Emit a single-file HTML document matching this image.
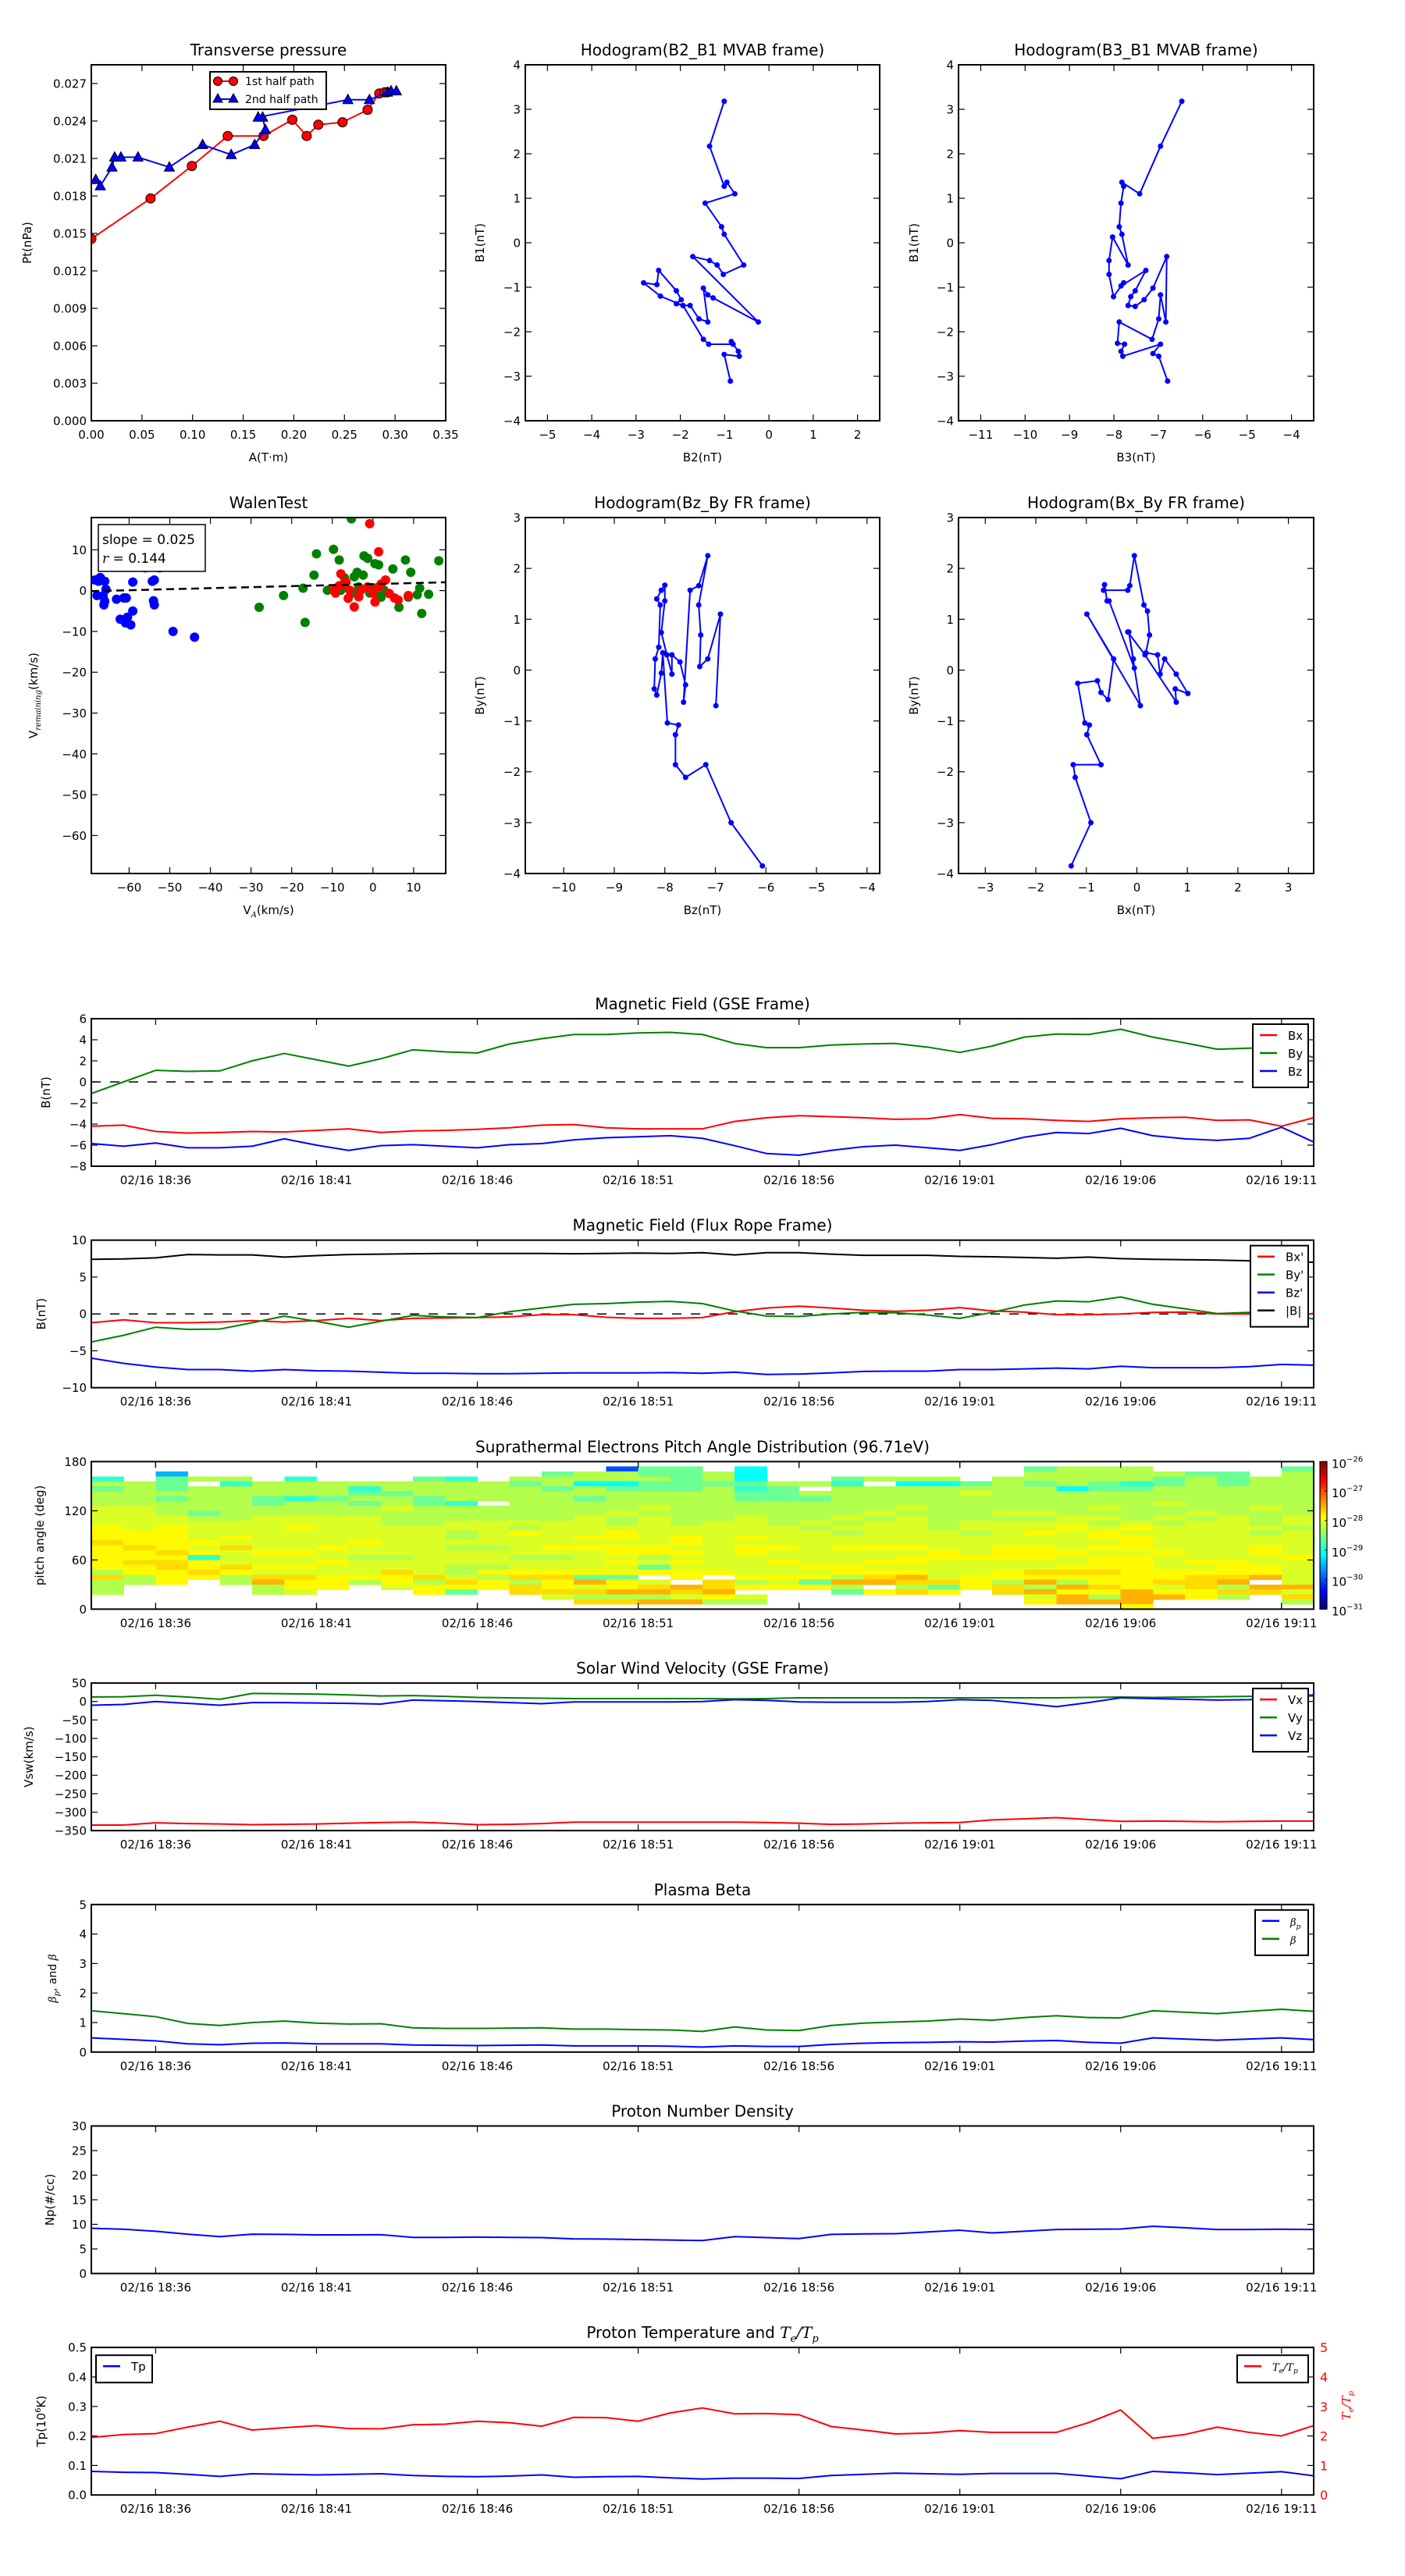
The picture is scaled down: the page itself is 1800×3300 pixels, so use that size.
<!DOCTYPE html>
<html><head><meta charset="utf-8">
<style>
html,body{margin:0;padding:0;background:#fff;}
svg{display:block;font-family:"DejaVu Sans","Liberation Sans",sans-serif;}
</style></head>
<body>
<svg id="fig" xmlns="http://www.w3.org/2000/svg" width="1800" height="3300" viewBox="0 0 1800 3300">
<rect x="0" y="0" width="1800" height="3300" fill="#fff"/>
</svg>
<script>
// ---------------- DATA ----------------
const timeTickLabels = ["02/16 18:36","02/16 18:41","02/16 18:46","02/16 18:51","02/16 18:56","02/16 19:01","02/16 19:06","02/16 19:11"];
const timeTickMinutes = [2,7,12,17,22,27,32,37];
const timeSpan = 38;

const gseBx = [-4.2,-4.1,-4.7,-4.85,-4.8,-4.7,-4.75,-4.6,-4.45,-4.8,-4.65,-4.6,-4.5,-4.35,-4.1,-4.05,-4.35,-4.45,-4.45,-4.45,-3.75,-3.4,-3.2,-3.3,-3.4,-3.55,-3.5,-3.1,-3.45,-3.5,-3.65,-3.75,-3.5,-3.4,-3.35,-3.65,-3.6,-4.2,-3.4];
const gseBy = [-1.1,0,1.1,1.0,1.05,2.0,2.7,2.1,1.5,2.2,3.05,2.85,2.75,3.6,4.1,4.5,4.5,4.65,4.7,4.5,3.65,3.25,3.25,3.5,3.6,3.65,3.3,2.8,3.4,4.25,4.55,4.5,5.0,4.25,3.7,3.1,3.2,3.3,2.3];
const gseBz = [-5.85,-6.1,-5.8,-6.25,-6.25,-6.1,-5.4,-6.0,-6.5,-6.05,-5.95,-6.1,-6.25,-5.95,-5.85,-5.5,-5.3,-5.2,-5.1,-5.35,-6.05,-6.8,-6.95,-6.5,-6.15,-6.0,-6.25,-6.5,-5.95,-5.25,-4.8,-4.9,-4.4,-5.1,-5.4,-5.55,-5.35,-4.3,-5.7];

const frBx = [-1.2,-0.8,-1.2,-1.2,-1.1,-0.9,-1.1,-0.9,-0.6,-0.9,-0.6,-0.55,-0.5,-0.4,-0.1,-0.1,-0.45,-0.6,-0.6,-0.5,0.3,0.8,1.05,0.8,0.5,0.35,0.5,0.85,0.4,0.25,-0.1,-0.1,0,0.2,0.25,0,0,-0.8,0.1];
const frBy = [-3.8,-2.9,-1.8,-2.1,-2.05,-1.2,-0.3,-1.0,-1.8,-1.0,-0.2,-0.4,-0.5,0.3,0.8,1.3,1.4,1.6,1.7,1.4,0.4,-0.3,-0.35,0,0.2,0.15,-0.15,-0.6,0.2,1.2,1.75,1.65,2.3,1.3,0.7,0.05,0.2,0.1,-0.7];
const frBz = [-6.0,-6.7,-7.2,-7.55,-7.55,-7.75,-7.55,-7.7,-7.75,-7.9,-8.05,-8.05,-8.1,-8.1,-8.05,-8.0,-8.0,-8.0,-7.95,-8.05,-7.9,-8.2,-8.15,-8.0,-7.8,-7.75,-7.75,-7.55,-7.55,-7.45,-7.35,-7.45,-7.1,-7.3,-7.3,-7.3,-7.15,-6.85,-6.95];
const frBt = [7.4,7.45,7.6,8.05,8.0,8.0,7.7,7.9,8.05,8.1,8.15,8.2,8.2,8.2,8.2,8.15,8.2,8.25,8.2,8.3,8.0,8.3,8.3,8.1,7.95,7.95,7.95,7.8,7.75,7.65,7.55,7.7,7.5,7.4,7.35,7.3,7.2,7.1,7.0];

const swVx = [-335,-335,-329,-331,-332,-334,-333,-332,-330,-328,-327,-330,-334,-333,-331,-327,-327,-327,-327,-327,-327,-328,-330,-333,-332,-330,-329,-328,-321,-318,-315,-320,-325,-324,-325,-326,-325,-324,-324];
const swVy = [12,13,17,12,6,22,21,20,18,15,16,14,11,10,9,8,8,8,8,8,7,8,10,10,10,10,10,10,10,10,10,11,12,11,12,13,14,14,15];
const swVz = [-10,-8,0,-5,-10,-3,-3,-4,-5,-7,4,2,0,-3,-6,-1,-1,-1,-1,0,5,3,-1,-2,-2,-2,0,5,3,-5,-14,-3,10,8,6,4,5,10,18];

const betaTotal = [1.4,1.3,1.2,0.97,0.9,1.0,1.05,0.98,0.95,0.96,0.82,0.8,0.8,0.81,0.82,0.78,0.78,0.76,0.75,0.7,0.85,0.75,0.73,0.9,0.98,1.02,1.05,1.12,1.08,1.17,1.23,1.17,1.16,1.4,1.35,1.3,1.38,1.45,1.38];
const betaProton = [0.48,0.43,0.38,0.28,0.25,0.3,0.31,0.28,0.28,0.28,0.24,0.23,0.22,0.23,0.24,0.21,0.21,0.21,0.2,0.17,0.21,0.19,0.19,0.26,0.3,0.32,0.33,0.35,0.34,0.37,0.39,0.33,0.3,0.48,0.44,0.4,0.44,0.48,0.42];

const density = [9.2,9.0,8.6,8.0,7.5,8.0,7.95,7.85,7.85,7.9,7.35,7.35,7.4,7.35,7.3,7.05,7.0,6.9,6.8,6.7,7.5,7.3,7.1,7.95,8.05,8.1,8.45,8.8,8.25,8.6,8.95,9.0,9.05,9.6,9.3,8.95,8.95,9.0,8.95];

const protonTemp = [0.08,0.077,0.076,0.07,0.063,0.072,0.07,0.068,0.07,0.072,0.066,0.063,0.062,0.064,0.068,0.06,0.062,0.063,0.058,0.054,0.057,0.057,0.056,0.066,0.07,0.074,0.072,0.07,0.073,0.073,0.073,0.064,0.055,0.08,0.075,0.069,0.074,0.079,0.065];
const tempRatio = [1.95,2.05,2.08,2.3,2.5,2.2,2.28,2.35,2.25,2.24,2.38,2.4,2.5,2.45,2.33,2.63,2.62,2.5,2.78,2.95,2.75,2.76,2.72,2.32,2.2,2.07,2.1,2.18,2.12,2.12,2.12,2.45,2.88,1.92,2.05,2.3,2.12,2.0,2.35];

// pitch angle distribution: 30 bins (top=174-180deg ... bottom=0-6deg), 38 one-minute columns; digit = level index, '.' = no data
const padRows = [
"......................................",
"................044.2........4555....4",
"..1...........4554452........5555544.5",
"3.455.3...43.55555452..4555.5555545455",
"554.35555555545224444553.2245454345455",
"4545555535555545444534.555555524455555",
"55555555445555555555445555565555555555",
"55455434554555545555444555555555555555",
"555554554543.5555555555555555555565555",
"66555555565555555655555556555556555565",
"66545555555555556555555565556655556555",
"66655666655555565655655656555566565656",
"66666666655666665656656566566665656656",
"76766676666665666666665666566676766665",
"77766666666567667666666566656767666656",
"77767666666566677676766666666667766666",
"87776666766666666676666666666666766666",
"78768667666556777766776777667767766676",
"77876776666666667776766666767776676676",
"77736666556665566566666667777767766667",
"78876667666666667676676677666667767766",
"77878776666556666466667766666677766776",
"57787666686577777777666777667888777776",
"85775887778658844.7.777589677777778896",
"557.59775758757976.85649988759577889.6",
"5....577.677787678987775.5478598768599",
"5....56...74.8889989...4787.8977977886",
"..............6555676........6959975.8",
"...............889955........7999....5",
"................................7....."
];
const padLevelLog = [-30.0,-29.5,-29.1,-28.9,-28.6,-28.25,-28.05,-27.85,-27.7,-27.5];
const padTickLabels = ["0","60","120","180"];
const cbarExponents = [-31,-30,-29,-28,-27,-26];

// transverse pressure
const tpRedA = [0,0.0585,0.0993,0.1347,0.1701,0.1985,0.2127,0.2242,0.2481,0.2729,0.2844,0.2897,0.2924];
const tpRedPt = [0.01456,0.0178,0.0204,0.0228,0.0228,0.0241,0.0228,0.0237,0.0239,0.0249,0.0262,0.0263,0.0263];
const tpBlueA = [0.0044,0.0089,0.0204,0.0230,0.0292,0.0461,0.0771,0.1099,0.1382,0.1613,0.1719,0.1692,0.1648,0.2534,0.2747,0.2924,0.2960,0.3013];
const tpBluePt = [0.0193,0.0188,0.0203,0.0211,0.0211,0.0211,0.0203,0.0221,0.0213,0.0221,0.0233,0.0243,0.0243,0.0257,0.0257,0.0263,0.0264,0.0264];
const tpXTicks = ["0.00","0.05","0.10","0.15","0.20","0.25","0.30","0.35"];
const tpYTicks = ["0.000","0.003","0.006","0.009","0.012","0.015","0.018","0.021","0.024","0.027"];

// hodograms
const h1B2 = [-1.01,-1.34,-1.01,-0.95,-0.77,-1.44,-1.07,-1.01,-0.57,-1.03,-1.17,-1.34,-1.72,-0.24,-1.26,-1.38,-1.48,-1.38,-1.58,-1.78,-1.94,-2.09,-1.98,-2.09,-2.49,-2.53,-2.83,-2.45,-1.94,-1.48,-1.36,-0.81,-0.85,-0.69,-0.67,-1.01,-0.87];
const h1B1 = [3.18,2.17,1.27,1.36,1.10,0.89,0.36,0.19,-0.50,-0.71,-0.50,-0.40,-0.31,-1.78,-1.24,-1.17,-1.02,-1.78,-1.71,-1.41,-1.41,-1.37,-1.28,-1.08,-0.62,-0.94,-0.90,-1.20,-1.41,-2.17,-2.28,-2.28,-2.22,-2.44,-2.55,-2.51,-3.11];
const h2B3 = [-6.47,-6.95,-7.42,-7.82,-7.78,-7.84,-7.88,-7.82,-7.68,-8.03,-8.11,-8.11,-8.01,-7.78,-7.84,-7.28,-7.52,-7.62,-7.68,-7.52,-7.32,-7.12,-6.81,-6.83,-6.95,-6.99,-7.14,-7.88,-7.92,-7.76,-7.84,-7.80,-6.95,-7.12,-6.99,-6.79];
const h2B1 = [3.18,2.17,1.10,1.36,1.27,0.89,0.36,0.19,-0.50,0.13,-0.40,-0.71,-1.21,-0.90,-0.97,-0.62,-1.08,-1.21,-1.41,-1.43,-1.28,-1.02,-0.31,-1.78,-1.17,-1.71,-2.17,-1.78,-2.26,-2.28,-2.44,-2.55,-2.28,-2.49,-2.55,-3.11];
const h3Bz = [-6.07,-6.69,-7.19,-7.59,-7.79,-7.79,-7.73,-7.95,-8.04,-8.07,-8.16,-8.21,-8.19,-8.12,-8.09,-8.16,-8.07,-8.00,-8.00,-8.07,-7.96,-7.86,-7.86,-7.70,-7.59,-7.63,-7.50,-7.33,-7.15,-7.33,-7.29,-7.31,-7.15,-6.90,-6.99];
const h3By = [-3.85,-3.00,-1.86,-2.11,-1.86,-1.27,-1.08,-1.04,0.34,-0.06,-0.49,-0.37,0.22,0.45,1.28,1.40,1.57,1.67,1.36,0.74,0.30,-0.08,0.30,0.16,-0.29,-0.63,1.57,1.66,2.25,1.28,0.69,0.07,0.22,1.10,-0.70];
const h4Bx = [-1.30,-0.91,-1.22,-1.26,-0.71,-0.99,-0.94,-1.03,-1.17,-0.78,-0.71,-0.57,-0.46,-0.99,0.07,-0.16,-0.07,-0.05,-0.55,-0.59,-0.64,-0.66,-0.18,-0.14,-0.05,0.14,0.21,0.25,0.18,0.41,0.46,0.55,0.78,1.01,0.76,0.78,0.16,-0.18];
const h4By = [-3.85,-3.00,-2.11,-1.86,-1.86,-1.27,-1.08,-1.04,-0.26,-0.21,-0.44,-0.58,0.22,1.10,-0.70,0.75,0.22,0.04,1.36,1.36,1.68,1.57,1.57,1.66,2.25,1.28,1.16,0.69,0.34,0.30,-0.08,0.22,-0.08,-0.46,-0.37,-0.63,0.30,0.75];

// Walen test
const walenBlueVA = [-68.4,-67.5,-67.1,-66.0,-66.4,-66.2,-66.0,-65.7,-67.9,-63.1,-61.3,-60.7,-59.1,-62.2,-60.9,-59.6,-60.4,-59.1,-58.7,-56.0,-54.3,-53.8,-53.2,-52.5,-52.5,-54.0,-53.8,-50.5,-49.2,-43.9,-64.4];
const walenBlueV = [2.6,2.3,3.2,2.3,-1.3,-3.5,-2.6,0.3,-1.2,-2.1,-1.8,-1.8,-5.0,-7.0,-7.9,-8.4,-6.5,2.1,6.0,5.6,2.3,2.6,6.8,5.6,6.6,-2.5,-3.5,7.5,-10.0,-11.4,7.3];
const walenGreenVA = [-5.3,-9.7,-13.9,-8.3,-14.5,-22.0,-28.0,-16.7,-17.2,-11.2,-7.9,-5.0,-3.9,-3.5,-2.2,-1.3,0.5,1.4,0.5,-0.8,1.0,2.0,4.9,8.0,9.3,6.4,8.7,10.9,11.5,12.0,13.7,16.2,-7.0,-4.6,2.7,-2.4];
const walenGreenV = [17.6,10.1,9.0,7.5,3.8,-1.2,-4.1,-7.8,0.6,0.1,0.1,-0.6,4.5,0.9,8.5,7.9,6.6,6.3,0.6,-0.6,-1.3,-1.6,5.3,7.5,4.5,-4.1,-1.6,-1.0,0.6,-5.6,-0.9,7.3,3.1,3.4,0.1,3.8];
const walenRedVA = [-0.8,1.4,-7.9,-9.7,-9.2,-7.2,-6.6,-5.7,-4.6,-6.1,-3.5,-1.3,0.0,0.5,1.4,3.1,4.0,5.3,6.2,8.7,2.0,-3.0,-8.3];
const walenRedV = [16.4,9.5,4.1,0.1,-0.6,1.6,2.1,0.1,-4.0,-1.9,-1.5,0.9,-0.6,-2.8,0.9,2.6,-0.7,-1.8,-2.3,-1.2,1.6,0.1,1.2];
const walenSlope = 0.025;
const walenIntercept = 1.6;
const walenR = 0.144;

// ---------------- DRAWING ----------------
const NS = "http://www.w3.org/2000/svg";
const svg = document.getElementById('fig');
const MINUS = "\u2212";
function fmtNum(v, d){ const s = v.toFixed(d); return s.replace("-", MINUS); }

function mk(tag, attrs, name, parent){
  const el = document.createElementNS(NS, tag);
  for (const k in attrs) el.setAttribute(k, attrs[k]);
  
  
  (parent || svg).appendChild(el);
  return el;
}
function txt(x, y, s, size, anchor, name, parent, extra){
  const a = {x:x, y:y, 'font-size':size, 'text-anchor':anchor||'middle', fill:'#000'};
  if (extra) for (const k in extra) a[k] = extra[k];
  const t = mk('text', a, name, parent);
  t.textContent = s;
  return t;
}
function polyline(xs, ys, sx, sy, color, name, parent, width){
  let d = '';
  for (let i = 0; i < xs.length; i++) d += (i ? ' L' : 'M') + sx(xs[i]).toFixed(2) + ' ' + sy(ys[i]).toFixed(2);
  return mk('path', {d:d, fill:'none', stroke:color, 'stroke-width':width||2, 'stroke-linejoin':'round'}, name, parent);
}
function frame(g, x0, y0, x1, y1, name){
  mk('rect', {x:x0, y:y0, width:x1-x0, height:y1-y0, fill:'none', stroke:'#000', 'stroke-width':2}, name, g);
}
function xTicks(g, vals, labels, sx, y0, y1, name, labelSize){
  vals.forEach((v, i) => {
    const x = sx(v);
    mk('line', {x1:x, y1:y1, x2:x, y2:y1-8, stroke:'#000', 'stroke-width':1.2}, name + '-tick', g);
    mk('line', {x1:x, y1:y0, x2:x, y2:y0+8, stroke:'#000', 'stroke-width':1.2}, name + '-tick-top', g);
    txt(x, y1 + 23, labels[i], labelSize || 15, 'middle', name + '-label', g);
  });
}
function yTicks(g, vals, labels, sy, x0, x1, name, labelSize){
  vals.forEach((v, i) => {
    const y = sy(v);
    mk('line', {x1:x0, y1:y, x2:x0+8, y2:y, stroke:'#000', 'stroke-width':1.2}, name + '-tick', g);
    mk('line', {x1:x1, y1:y, x2:x1-8, y2:y, stroke:'#000', 'stroke-width':1.2}, name + '-tick-right', g);
    txt(x0 - 6, y + 5.5, labels[i], labelSize || 15, 'end', name + '-label', g);
  });
}
function scale(d0, d1, p0, p1){ return v => p0 + (v - d0) * (p1 - p0) / (d1 - d0); }
function rangeArr(a, b, s){ const r = []; for (let v = a; v <= b + 1e-9; v += s) r.push(Math.round(v*1000)/1000); return r; }

// ---------- time-series panels ----------
const TL = 117, TR = 1683, TH = 189;
const tx = scale(0, timeSpan, TL, TR);
const timeIdx = gseBx.map((_, i) => i);

function timePanel(top, ymin, ymax, ytickVals, ytickFmt, title, name){
  const g = mk('g', {}, name);
  const sy = scale(ymin, ymax, top + TH, top);
  txt((TL + TR) / 2, top - 12, title, 20, 'middle', name + '-title', g);
  yTicks(g, ytickVals, ytickVals.map(ytickFmt), sy, TL, TR, name + '-y');
  xTicks(g, timeTickMinutes, timeTickLabels, tx, top, top + TH, name + '-x');
  return {g: g, sy: sy, top: top};
}
function clipFor(p, id){
  const cp = mk('clipPath', {id:id}, id, p.g);
  mk('rect', {x:TL, y:p.top, width:TR-TL, height:TH}, id + '-rect', cp);
  return 'url(#' + id + ')';
}
function legend(g, x0, y0, w, entries, name){
  const h = 12 + entries.length * 23;
  mk('rect', {x:x0, y:y0, width:w, height:h, fill:'#fff', stroke:'#000', 'stroke-width':2}, name + '-box', g);
  entries.forEach((e, i) => {
    const y = y0 + 14 + i * 23;
    mk('line', {x1:x0+9, y1:y, x2:x0+31, y2:y, stroke:e.color, 'stroke-width':2.5}, name + '-swatch', g);
    const t = txt(x0 + 45, y + 6, '', 15, 'start', name + '-entry', g);
    if (e.html) t.innerHTML = e.html; else t.textContent = e.label;
  });
}
function ylabel(g, x, y, s, name, size){
  const t = mk('text', {x:0, y:0, 'font-size':size||15, 'text-anchor':'middle', transform:'translate(' + x + ',' + y + ') rotate(-90)', fill:'#000'}, name, g);
  t.innerHTML = s;
  return t;
}
const step = (i) => 1305 + i * 283.7;

// Panel 1: GSE field
(function(){
  const top = step(0);
  const p = timePanel(top, -8, 6, rangeArr(-8, 6, 2), v => fmtNum(v, 0), 'Magnetic Field (GSE Frame)', 'gse-field-panel');
  const c = clipFor(p, 'clip-gse');
  mk('line', {x1:TL, y1:p.sy(0), x2:TR, y2:p.sy(0), stroke:'#000', 'stroke-width':1.5, 'stroke-dasharray':'12,12'}, 'zero-line', p.g);
  polyline(timeIdx, gseBx, tx, p.sy, '#ff0000', 'bx-line', p.g).setAttribute('clip-path', c);
  polyline(timeIdx, gseBy, tx, p.sy, '#008000', 'by-line', p.g).setAttribute('clip-path', c);
  polyline(timeIdx, gseBz, tx, p.sy, '#0000ff', 'bz-line', p.g).setAttribute('clip-path', c);
  frame(p.g, TL, top, TR, top + TH, 'gse-axes-frame');
  legend(p.g, 1605, top + 7, 71, [{label:'Bx', color:'#ff0000'}, {label:'By', color:'#008000'}, {label:'Bz', color:'#0000ff'}], 'gse-legend');
  ylabel(p.g, 64, top + TH/2, 'B(nT)', 'gse-y-axis-title');
})();

// Panel 2: Flux rope frame
(function(){
  const top = step(1);
  const p = timePanel(top, -10, 10, [-10, -5, 0, 5, 10], v => fmtNum(v, 0), 'Magnetic Field (Flux Rope Frame)', 'fr-field-panel');
  const c = clipFor(p, 'clip-fr');
  mk('line', {x1:TL, y1:p.sy(0), x2:TR, y2:p.sy(0), stroke:'#000', 'stroke-width':1.5, 'stroke-dasharray':'12,12'}, 'zero-line', p.g);
  polyline(timeIdx, frBx, tx, p.sy, '#ff0000', 'bx-prime-line', p.g).setAttribute('clip-path', c);
  polyline(timeIdx, frBy, tx, p.sy, '#008000', 'by-prime-line', p.g).setAttribute('clip-path', c);
  polyline(timeIdx, frBz, tx, p.sy, '#0000ff', 'bz-prime-line', p.g).setAttribute('clip-path', c);
  polyline(timeIdx, frBt, tx, p.sy, '#000000', 'b-magnitude-line', p.g).setAttribute('clip-path', c);
  frame(p.g, TL, top, TR, top + TH, 'fr-axes-frame');
  legend(p.g, 1602, top + 7, 74, [{label:"Bx'", color:'#ff0000'}, {label:"By'", color:'#008000'}, {label:"Bz'", color:'#0000ff'}, {label:'|B|', color:'#000'}], 'fr-legend');
  ylabel(p.g, 58, top + TH/2, 'B(nT)', 'fr-y-axis-title');
})();

// Panel 3: PAD heatmap
function jet(t){
  t = Math.max(0, Math.min(1, t));
  const c = v => Math.round(255 * Math.max(0, Math.min(1, v)));
  return 'rgb(' + c(1.5 - Math.abs(4*t - 3)) + ',' + c(1.5 - Math.abs(4*t - 2)) + ',' + c(1.5 - Math.abs(4*t - 1)) + ')';
}
(function(){
  const top = step(2);
  const p = timePanel(top, 0, 180, [0, 60, 120, 180], v => padTickLabels[[0,60,120,180].indexOf(v)], 'Suprathermal Electrons Pitch Angle Distribution (96.71eV)', 'pad-panel');
  const nb = padRows.length;
  const cellH = TH / nb;
  const cg = mk('g', {'shape-rendering':'crispEdges'}, 'pad-heatmap', p.g);
  padRows.forEach((row, r) => {
    for (let k = 0; k < row.length && k < timeSpan; k++) {
      const ch = row[k];
      if (ch === '.') continue;
      const lg = padLevelLog[+ch];
      const x0 = tx(k), x1 = tx(k + 1);
      const cell = mk('rect', {x:x0.toFixed(2), y:(top + r*cellH).toFixed(2), width:(x1-x0+0.6).toFixed(2), height:(cellH+0.6).toFixed(2), fill:jet((lg + 31) / 5)}, 'pad-cell', cg);
    }
  });
  // redraw ticks on top of cells
  [0,60,120,180].forEach(v => {
    const y = p.sy(v);
    mk('line', {x1:TL, y1:y, x2:TL+8, y2:y, stroke:'#000', 'stroke-width':1.2}, 'pad-y-tick', p.g);
    mk('line', {x1:TR, y1:y, x2:TR-8, y2:y, stroke:'#000', 'stroke-width':1.2}, 'pad-y-tick-right', p.g);
  });
  timeTickMinutes.forEach(m => {
    mk('line', {x1:tx(m), y1:top+TH, x2:tx(m), y2:top+TH-8, stroke:'#000', 'stroke-width':1.2}, 'pad-x-tick', p.g);
    mk('line', {x1:tx(m), y1:top, x2:tx(m), y2:top+8, stroke:'#000', 'stroke-width':1.2}, 'pad-x-tick-top', p.g);
  });
  frame(p.g, TL, top, TR, top + TH, 'pad-axes-frame');
  ylabel(p.g, 56, top + TH/2, 'pitch angle (deg)', 'pad-y-axis-title');
  // colorbar
  const cb = mk('g', {}, 'pad-colorbar', p.g);
  const cx0 = 1691, cx1 = 1700, cbH = TH;
  for (let i = 0; i < 64; i++) {
    mk('rect', {x:cx0, y:(top + cbH - (i+1)*cbH/64).toFixed(2), width:cx1-cx0, height:(cbH/64 + 0.5).toFixed(2), fill:jet((i+0.5)/64)}, 'colorbar-segment', cb);
  }
  mk('rect', {x:cx0, y:top, width:cx1-cx0, height:cbH, fill:'none', stroke:'#000', 'stroke-width':1.2}, 'colorbar-frame', cb);
  const cs = scale(-31, -26, top + cbH, top);
  cbarExponents.forEach(e => {
    const y = cs(e);
    mk('line', {x1:cx1, y1:y, x2:cx1-3, y2:y, stroke:'#000', 'stroke-width':1}, 'colorbar-tick', cb);
    const t = txt(cx1 + 6, y + 8, '', 15, 'start', 'colorbar-label', cb);
    t.innerHTML = '10<tspan dy="-8" font-size="10">' + MINUS + Math.abs(e) + '</tspan>';
  });
})();

// Panel 4: Solar wind velocity
(function(){
  const top = step(3);
  const p = timePanel(top, -350, 50, rangeArr(-350, 50, 50), v => fmtNum(v, 0), 'Solar Wind Velocity (GSE Frame)', 'sw-velocity-panel');
  const c = clipFor(p, 'clip-sw');
  polyline(timeIdx, swVx, tx, p.sy, '#ff0000', 'vx-line', p.g).setAttribute('clip-path', c);
  polyline(timeIdx, swVy, tx, p.sy, '#008000', 'vy-line', p.g).setAttribute('clip-path', c);
  polyline(timeIdx, swVz, tx, p.sy, '#0000ff', 'vz-line', p.g).setAttribute('clip-path', c);
  frame(p.g, TL, top, TR, top + TH, 'sw-axes-frame');
  legend(p.g, 1605, top + 7, 71, [{label:'Vx', color:'#ff0000'}, {label:'Vy', color:'#008000'}, {label:'Vz', color:'#0000ff'}], 'sw-legend');
  ylabel(p.g, 42, top + TH/2, 'Vsw(km/s)', 'sw-y-axis-title');
})();

// Panel 5: Plasma beta
(function(){
  const top = step(4);
  const p = timePanel(top, 0, 5, [0,1,2,3,4,5], v => fmtNum(v, 0), 'Plasma Beta', 'beta-panel');
  const c = clipFor(p, 'clip-beta');
  polyline(timeIdx, betaProton, tx, p.sy, '#0000ff', 'beta-proton-line', p.g).setAttribute('clip-path', c);
  polyline(timeIdx, betaTotal, tx, p.sy, '#008000', 'beta-total-line', p.g).setAttribute('clip-path', c);
  frame(p.g, TL, top, TR, top + TH, 'beta-axes-frame');
  legend(p.g, 1608, top + 7, 68, [{html:'<tspan font-family="DejaVu Serif" font-style="italic" font-size="13">β<tspan font-size="9" dy="4">p</tspan></tspan>', color:'#0000ff'}, {html:'<tspan font-family="DejaVu Serif" font-style="italic" font-size="13">β</tspan>', color:'#008000'}], 'beta-legend');
  ylabel(p.g, 72, top + TH/2, '<tspan font-family="DejaVu Serif" font-style="italic">β<tspan font-size="10" dy="4">p</tspan></tspan><tspan dy="-4">, and </tspan><tspan font-family="DejaVu Serif" font-style="italic">β</tspan>', 'beta-y-axis-title', 14);
})();

// Panel 6: Density
(function(){
  const top = step(5);
  const p = timePanel(top, 0, 30, rangeArr(0, 30, 5), v => fmtNum(v, 0), 'Proton Number Density', 'density-panel');
  const c = clipFor(p, 'clip-den');
  polyline(timeIdx, density, tx, p.sy, '#0000ff', 'density-line', p.g).setAttribute('clip-path', c);
  frame(p.g, TL, top, TR, top + TH, 'density-axes-frame');
  ylabel(p.g, 69, top + TH/2, 'Np(#/cc)', 'density-y-axis-title');
})();

// Panel 7: Temperature
(function(){
  const top = step(6);
  const p = timePanel(top, 0, 0.5, rangeArr(0, 0.5, 0.1), v => fmtNum(v, 1), '', 'temperature-panel');
  const tt = txt((TL + TR)/2, top - 12, '', 20, 'middle', 'temperature-title', p.g);
  tt.innerHTML = 'Proton Temperature and <tspan font-family="DejaVu Serif" font-style="italic">T<tspan font-size="13" dy="5">e</tspan><tspan dy="-5">/T</tspan><tspan font-size="13" dy="5">p</tspan></tspan>';
  const c = clipFor(p, 'clip-temp');
  const sr = scale(0, 5, top + TH, top);
  polyline(timeIdx, protonTemp, tx, p.sy, '#0000ff', 'proton-temp-line', p.g).setAttribute('clip-path', c);
  polyline(timeIdx, tempRatio, tx, sr, '#ff0000', 'temp-ratio-line', p.g).setAttribute('clip-path', c);
  [0,1,2,3,4,5].forEach(v => {
    const t = txt(TR + 8, sr(v) + 6, String(v), 16, 'start', 'right-y-tick-label', p.g);
    t.setAttribute('fill', '#ff0000');
  });
  frame(p.g, TL, top, TR, top + TH, 'temperature-axes-frame');
  legend(p.g, 123, top + 10, 72, [{label:'Tp', color:'#0000ff'}], 'tp-legend');
  legend(p.g, 1585, top + 10, 91, [{html:'<tspan font-family="DejaVu Serif" font-style="italic" font-size="13">T<tspan font-size="9" dy="3">e</tspan><tspan dy="-3">/T</tspan><tspan font-size="9" dy="3">p</tspan></tspan>', color:'#ff0000'}], 'ratio-legend');
  ylabel(p.g, 58, top + TH/2, 'Tp(10<tspan font-size="10" dy="-6">6</tspan><tspan dy="6">K)</tspan>', 'temperature-y-axis-title');
  const rl = ylabel(p.g, 1730, top + TH/2 - 20, '<tspan font-family="DejaVu Serif" font-style="italic">T<tspan font-size="10" dy="4">e</tspan><tspan dy="-4">/T</tspan><tspan font-size="10" dy="4">p</tspan></tspan>', 'ratio-y-axis-title');
  rl.setAttribute('fill', '#ff0000');
})();

// ---------- scatter / hodogram panels ----------
function xyAxes(x0, y0, x1, y1, xmin, xmax, ymin, ymax, xv, xl, yv, yl, title, xlab, ylab, ylx, name){
  const g = mk('g', {}, name);
  const sx = scale(xmin, xmax, x0, x1), sy = scale(ymin, ymax, y1, y0);
  const cp = mk('clipPath', {id:'clip-' + name}, name + '-clip', g);
  mk('rect', {x:x0, y:y0, width:x1-x0, height:y1-y0}, name + '-clip-rect', cp);
  txt((x0 + x1)/2, y0 - 12, title, 20, 'middle', name + '-title', g);
  xTicks(g, xv, xl, sx, y0, y1, name + '-x');
  yTicks(g, yv, yl, sy, x0, x1, name + '-y');
  const xt = txt((x0 + x1)/2, y1 + 52, '', 15, 'middle', name + '-x-axis-title', g);
  xt.innerHTML = xlab;
  ylabel(g, ylx, (y0 + y1)/2, ylab, name + '-y-axis-title');
  return {g:g, sx:sx, sy:sy, clip:'url(#clip-' + name + ')', frame:() => frame(g, x0, y0, x1, y1, name + '-frame')};
}
function dots(a, xs, ys, r, fill, name, stroke){
  const dg = mk('g', {'clip-path':a.clip}, name + '-group', a.g);
  xs.forEach((x, i) => {
    mk('circle', {cx:a.sx(x).toFixed(2), cy:a.sy(ys[i]).toFixed(2), r:r, fill:fill, stroke:stroke||'none', 'stroke-width':1}, name, dg);
  });
}
const ints = (a, b) => rangeArr(a, b, 1);
const fm0 = v => fmtNum(v, 0);
const R1T = 83, R1B = 539, R2T = 663, R2B = 1119;
const C1 = [117, 571], C2 = [673, 1127], C3 = [1228, 1683];

// Transverse pressure
(function(){
  const xv = rangeArr(0, 0.35, 0.05), yv = rangeArr(0, 0.027, 0.003);
  const a = xyAxes(C1[0], R1T, C1[1], R1B, 0, 0.35, 0, 0.0285, xv, tpXTicks, yv, tpYTicks, 'Transverse pressure', 'A(T·m)', 'Pt(nPa)', 40, 'transverse-pressure');
  const lg = mk('g', {'clip-path':a.clip}, 'tp-series', a.g);
  polyline(tpRedA, tpRedPt, a.sx, a.sy, '#ff0000', 'first-half-line', lg, 2);
  tpRedA.forEach((x, i) => mk('circle', {cx:a.sx(x), cy:a.sy(tpRedPt[i]), r:6, fill:'#ff0000', stroke:'#000', 'stroke-width':1}, 'first-half-marker', lg));
  polyline(tpBlueA, tpBluePt, a.sx, a.sy, '#0000ff', 'second-half-line', lg, 2);
  tpBlueA.forEach((x, i) => {
    const cx = a.sx(x), cy = a.sy(tpBluePt[i]);
    mk('path', {d:'M' + cx + ' ' + (cy-7) + ' L' + (cx+6.5) + ' ' + (cy+5) + ' L' + (cx-6.5) + ' ' + (cy+5) + ' Z', fill:'#0000ff', stroke:'#000', 'stroke-width':1}, 'second-half-marker', lg);
  });
  a.frame();
  const L = mk('g', {}, 'tp-legend', a.g);
  mk('rect', {x:269, y:92, width:149, height:48, fill:'#fff', stroke:'#000', 'stroke-width':2}, 'tp-legend-box', L);
  mk('line', {x1:279, y1:104, x2:299, y2:104, stroke:'#ff0000', 'stroke-width':2}, 'legend-swatch', L);
  mk('circle', {cx:279, cy:104, r:5.5, fill:'#ff0000', stroke:'#000'}, 'legend-marker', L);
  mk('circle', {cx:299, cy:104, r:5.5, fill:'#ff0000', stroke:'#000'}, 'legend-marker', L);
  txt(314, 109, '1st half path', 14, 'start', 'legend-entry', L);
  mk('line', {x1:279, y1:127, x2:299, y2:127, stroke:'#0000ff', 'stroke-width':2}, 'legend-swatch', L);
  mk('path', {d:'M279 120 L285 131 L273 131 Z M299 120 L305 131 L293 131 Z', fill:'#0000ff', stroke:'#000'}, 'legend-marker', L);
  txt(314, 132, '2nd half path', 14, 'start', 'legend-entry', L);
})();

// Hodogram B2_B1
(function(){
  const xv = ints(-5, 2), yv = ints(-4, 4);
  const a = xyAxes(C2[0], R1T, C2[1], R1B, -5.5, 2.5, -4, 4, xv, xv.map(fm0), yv, yv.map(fm0), 'Hodogram(B2_B1 MVAB frame)', 'B2(nT)', 'B1(nT)', 620, 'hodogram-b2-b1');
  polyline(h1B2, h1B1, a.sx, a.sy, '#0000ff', 'hodogram-path', a.g, 2).setAttribute('clip-path', a.clip);
  dots(a, h1B2, h1B1, 3.5, '#0000ff', 'hodogram-point');
  a.frame();
})();
// Hodogram B3_B1
(function(){
  const xv = ints(-11, -4), yv = ints(-4, 4);
  const a = xyAxes(C3[0], R1T, C3[1], R1B, -11.5, -3.5, -4, 4, xv, xv.map(fm0), yv, yv.map(fm0), 'Hodogram(B3_B1 MVAB frame)', 'B3(nT)', 'B1(nT)', 1176, 'hodogram-b3-b1');
  polyline(h2B3, h2B1, a.sx, a.sy, '#0000ff', 'hodogram-path', a.g, 2).setAttribute('clip-path', a.clip);
  dots(a, h2B3, h2B1, 3.5, '#0000ff', 'hodogram-point');
  a.frame();
})();
// Walen test
(function(){
  const xv = rangeArr(-60, 10, 10), yv = rangeArr(-60, 10, 10);
  const a = xyAxes(C1[0], R2T, C1[1], R2B, -69.3, 17.9, -69.3, 17.9, xv, xv.map(fm0), yv, yv.map(fm0), 'WalenTest', 'V<tspan font-size="10" dy="4" font-style="italic" font-family="DejaVu Serif">A</tspan><tspan dy="-4">(km/s)</tspan>', 'V<tspan font-size="10" dy="4" font-style="italic" font-family="DejaVu Serif">remaining</tspan><tspan dy="-4">(km/s)</tspan>', 48, 'walen-test');
  dots(a, walenBlueVA, walenBlueV, 6, '#0000ff', 'walen-blue-point');
  dots(a, walenGreenVA, walenGreenV, 6, '#008000', 'walen-green-point');
  dots(a, walenRedVA, walenRedV, 6, '#ff0000', 'walen-red-point');
  const fx = [-69.3, 17.9];
  const fit = mk('line', {x1:a.sx(fx[0]), y1:a.sy(walenSlope*fx[0] + walenIntercept), x2:a.sx(fx[1]), y2:a.sy(walenSlope*fx[1] + walenIntercept), stroke:'#000', 'stroke-width':2.5, 'stroke-dasharray':'10,6'}, 'walen-fit-line', a.g);
  a.frame();
  const b = mk('g', {}, 'walen-stats-box', a.g);
  mk('rect', {x:126, y:672, width:137, height:60, fill:'#fff', stroke:'#000', 'stroke-width':1.5}, 'stats-box-frame', b);
  txt(131, 697, 'slope = ' + walenSlope.toFixed(3), 17, 'start', 'slope-text', b);
  const rt = txt(131, 721, '', 17, 'start', 'r-text', b);
  rt.innerHTML = '<tspan font-style="italic" font-family="DejaVu Serif">r</tspan> = ' + walenR.toFixed(3);
})();
// Hodogram Bz_By
(function(){
  const xv = ints(-10, -4), yv = ints(-4, 3);
  const a = xyAxes(C2[0], R2T, C2[1], R2B, -10.76, -3.75, -4, 3, xv, xv.map(fm0), yv, yv.map(fm0), 'Hodogram(Bz_By FR frame)', 'Bz(nT)', 'By(nT)', 620, 'hodogram-bz-by');
  polyline(h3Bz, h3By, a.sx, a.sy, '#0000ff', 'hodogram-path', a.g, 2).setAttribute('clip-path', a.clip);
  dots(a, h3Bz, h3By, 3.5, '#0000ff', 'hodogram-point');
  a.frame();
})();
// Hodogram Bx_By
(function(){
  const xv = ints(-3, 3), yv = ints(-4, 3);
  const a = xyAxes(C3[0], R2T, C3[1], R2B, -3.53, 3.5, -4, 3, xv, xv.map(fm0), yv, yv.map(fm0), 'Hodogram(Bx_By FR frame)', 'Bx(nT)', 'By(nT)', 1176, 'hodogram-bx-by');
  polyline(h4Bx, h4By, a.sx, a.sy, '#0000ff', 'hodogram-path', a.g, 2).setAttribute('clip-path', a.clip);
  dots(a, h4Bx, h4By, 3.5, '#0000ff', 'hodogram-point');
  a.frame();
})();
</script>
</body></html>
